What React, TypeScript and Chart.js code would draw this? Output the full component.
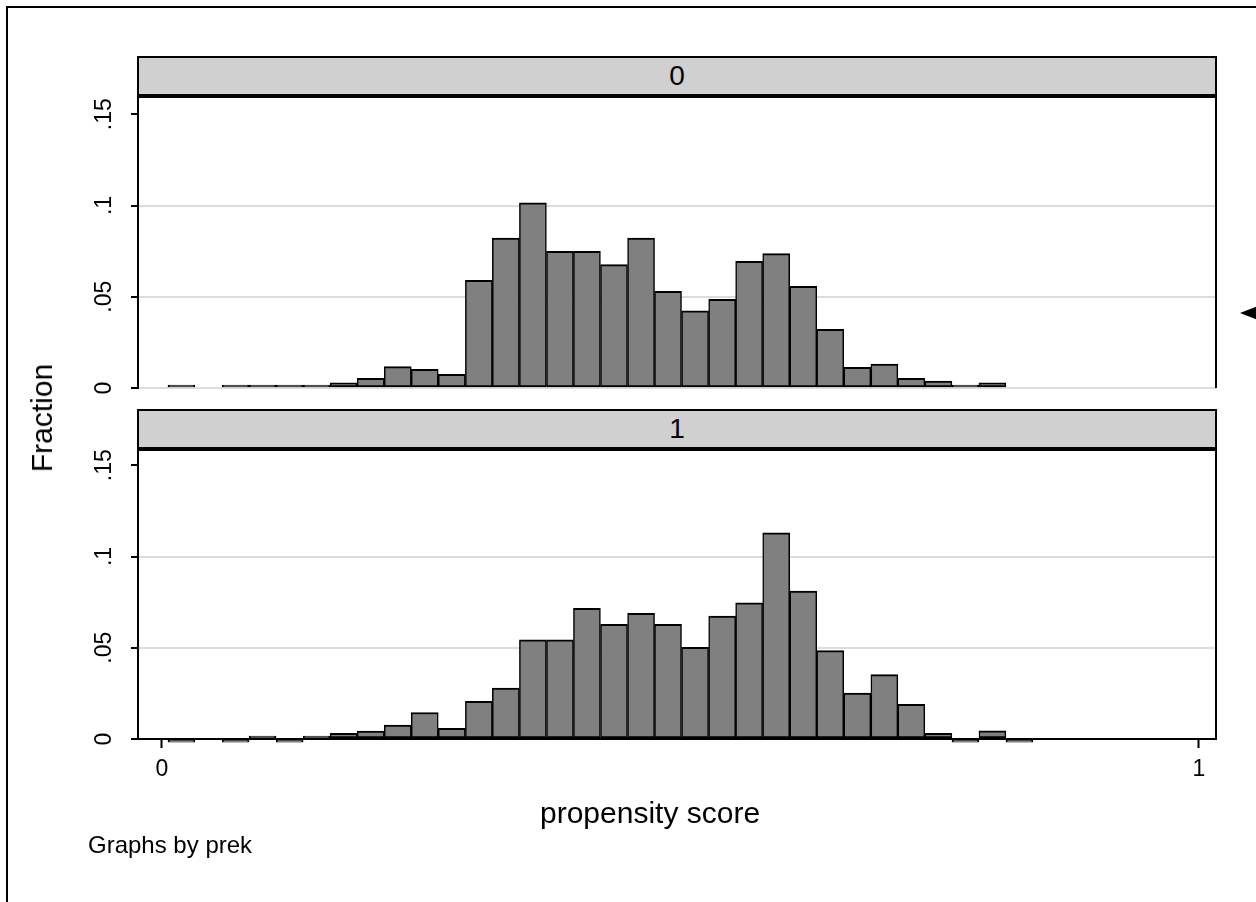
import React, { useEffect, useRef } from 'react';
import { Chart, registerables } from 'chart.js';

Chart.register(...registerables);

const FONT = "'Liberation Sans', Arial, Helvetica, sans-serif";

// centres of the 32 histogram bins (propensity score)
const binCenters = [
  0.0188, 0.0449, 0.071, 0.097, 0.1231, 0.1492, 0.1752, 0.2013,
  0.2274, 0.2534, 0.2795, 0.3056, 0.3316, 0.3577, 0.3838, 0.4098,
  0.4359, 0.462, 0.488, 0.5141, 0.5402, 0.5662, 0.5923, 0.6184,
  0.6444, 0.6705, 0.6966, 0.7226, 0.7487, 0.7748, 0.8008, 0.8269,
];

// fraction per bin, prek = 0
const fractionPrek0: (number | null)[] = [
  0.0016, null, 0.0016, 0.0016, 0.0016, 0.0016, 0.0029, 0.0053,
  0.0117, 0.0102, 0.0075, 0.059, 0.0821, 0.1015, 0.0749, 0.0749,
  0.0676, 0.0821, 0.053, 0.0423, 0.0486, 0.0694, 0.0736, 0.0557,
  0.0322, 0.0113, 0.0131, 0.0053, 0.0038, 0.0016, 0.0029, null,
];

// fraction per bin, prek = 1
const fractionPrek1: (number | null)[] = [
  -0.0018, null, -0.0018, 0.0016, -0.0018, 0.0016, 0.0031, 0.0043,
  0.0076, 0.0145, 0.0058, 0.0207, 0.0279, 0.0543, 0.0543, 0.0716,
  0.0629, 0.0688, 0.0629, 0.0502, 0.0674, 0.0746, 0.113, 0.081,
  0.0484, 0.0252, 0.0353, 0.019, 0.0031, -0.0018, 0.0045, -0.0018,
];

const panelLabels = ['0', '1'];
const yTickValues = [0, 0.05, 0.1, 0.15];
const yTickLabels = ['0', '.05', '.1', '.15'];
const xTickValues = [0, 1];
const xTickLabels = ['0', '1'];
const yTitle = 'Fraction';
const xTitle = 'propensity score';
const noteText = 'Graphs by prek';

const rightFrame = {
  id: 'rightFrame',
  afterDatasetsDraw(chart: any) {
    const { ctx, chartArea: a } = chart;
    ctx.save();
    ctx.strokeStyle = '#000';
    ctx.lineWidth = 2;
    ctx.beginPath();
    ctx.moveTo(a.right, a.top);
    ctx.lineTo(a.right, a.bottom);
    ctx.stroke();
    ctx.restore();
  },
};

function buildConfig(values: (number | null)[], showX: boolean): any {
  const data = binCenters
    .map((x, i) => ({ x, y: values[i] }))
    .filter((d) => d.y !== null);
  return {
    type: 'bar',
    data: {
      datasets: [
        {
          data,
          backgroundColor: '#808080',
          borderColor: '#000000',
          borderWidth: { top: 2, bottom: 2, left: 1.5, right: 1.5 },
          borderSkipped: false,
          barPercentage: 1,
          categoryPercentage: 1,
          clip: false,
        },
      ],
    },
    options: {
      responsive: false,
      animation: false,
      events: [],
      layout: {
        padding: showX
          ? { left: 0, right: 40, top: 47, bottom: 103 }
          : { left: 0, right: 40, top: 56, bottom: 32 },
      },
      plugins: { legend: { display: false }, tooltip: { enabled: false } },
      scales: {
        x: {
          type: 'linear',
          min: -0.0231,
          max: 1.0164,
          offset: false,
          display: showX,
          afterBuildTicks: (s: any) => {
            s.ticks = xTickValues.map((v) => ({ value: v }));
          },
          afterFit: (s: any) => {
            s.height = showX ? 60 : 0;
          },
          ticks: {
            autoSkip: false,
            maxRotation: 0,
            minRotation: 0,
            padding: 8,
            color: '#000',
            font: { family: FONT, size: 23 },
            callback: (_v: any, i: number) => xTickLabels[i],
          },
          grid: {
            offset: false,
            drawOnChartArea: false,
            drawTicks: true,
            tickLength: 9,
            tickWidth: 2,
            tickColor: '#000',
          },
          border: { display: true, color: '#000', width: 2 },
        },
        y: {
          type: 'linear',
          min: 0,
          max: 0.16,
          afterBuildTicks: (s: any) => {
            s.ticks = yTickValues.map((v) => ({ value: v }));
          },
          afterFit: (s: any) => {
            s.width = 138;
          },
          ticks: {
            minRotation: 90,
            maxRotation: 90,
            crossAlign: 'center',
            padding: 10,
            color: '#000',
            font: { family: FONT, size: 23 },
            callback: (_v: any, i: number) => yTickLabels[i],
          },
          grid: {
            color: (c: any) =>
              c.tick && (c.tick.value === 0.15 || (showX && c.tick.value === 0))
                ? 'rgba(0,0,0,0)'
                : '#dcdcdc',
            lineWidth: 2,
            drawTicks: true,
            tickLength: 7,
            tickWidth: 2,
            tickColor: '#000',
          },
          border: { display: true, color: '#000', width: 2 },
        },
      },
    },
    plugins: [rightFrame],
  };
}

const stripStyle = (top: number): React.CSSProperties => ({
  position: 'absolute',
  left: 137,
  top,
  width: 1080,
  height: 42,
  boxSizing: 'border-box',
  background: '#d0d0d0',
  borderTop: '2px solid #000',
  borderLeft: '2px solid #000',
  borderRight: '2px solid #000',
  borderBottom: '4px solid #000',
  display: 'flex',
  alignItems: 'center',
  justifyContent: 'center',
  fontFamily: FONT,
  fontSize: 28,
  lineHeight: 1,
  color: '#000',
});

export default function App() {
  const topRef = useRef<HTMLCanvasElement>(null);
  const botRef = useRef<HTMLCanvasElement>(null);

  useEffect(() => {
    const c1 = new Chart(topRef.current as HTMLCanvasElement, buildConfig(fractionPrek0, false));
    const c2 = new Chart(botRef.current as HTMLCanvasElement, buildConfig(fractionPrek1, true));
    return () => {
      c1.destroy();
      c2.destroy();
    };
  }, []);

  return (
    <div
      style={{
        position: 'fixed',
        left: 0,
        top: 0,
        width: 1256,
        height: 902,
        overflow: 'hidden',
        background: '#fff',
        fontFamily: FONT,
      }}
    >
      <div
        style={{
          position: 'absolute',
          left: 6,
          top: 6,
          width: 1400,
          height: 1200,
          border: '2px solid #000',
        }}
      />
      <canvas
        ref={topRef}
        width={1256}
        height={380}
        style={{ position: 'absolute', left: 0, top: 40, width: 1256, height: 380 }}
      />
      <canvas
        ref={botRef}
        width={1256}
        height={502}
        style={{ position: 'absolute', left: 0, top: 400, width: 1256, height: 502 }}
      />
      <div style={stripStyle(56)}>{panelLabels[0]}</div>
      <div style={stripStyle(409)}>{panelLabels[1]}</div>
      <div
        style={{
          position: 'absolute',
          left: 42,
          top: 418,
          transform: 'translate(-50%, -50%) rotate(-90deg)',
          fontSize: 30,
          lineHeight: 1,
          whiteSpace: 'nowrap',
          color: '#000',
        }}
      >
        {yTitle}
      </div>
      <div
        style={{
          position: 'absolute',
          left: 540,
          top: 798,
          fontSize: 30,
          lineHeight: 1,
          whiteSpace: 'nowrap',
          color: '#000',
        }}
      >
        {xTitle}
      </div>
      <div
        style={{
          position: 'absolute',
          left: 88,
          top: 833,
          fontSize: 24,
          lineHeight: 1,
          whiteSpace: 'nowrap',
          color: '#000',
        }}
      >
        {noteText}
      </div>
      <div
        style={{
          position: 'absolute',
          left: 1240,
          top: 306,
          width: 0,
          height: 0,
          borderTop: '7px solid transparent',
          borderBottom: '7px solid transparent',
          borderRight: '18px solid #000',
        }}
      />
    </div>
  );
}
